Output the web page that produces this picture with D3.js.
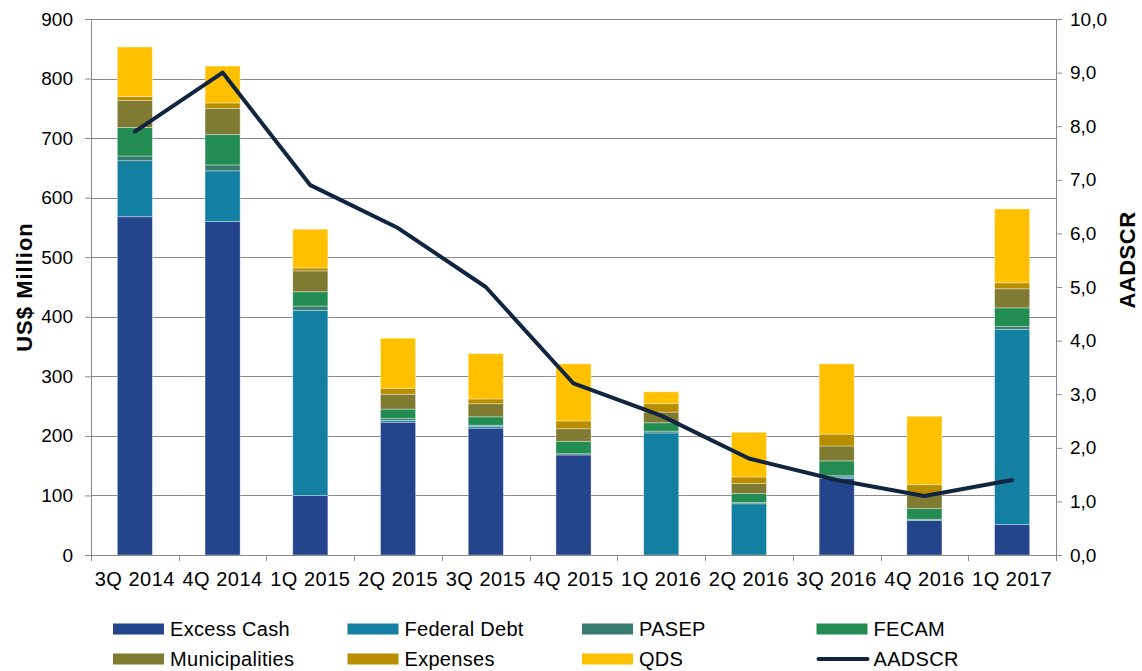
<!DOCTYPE html>
<html>
<head>
<meta charset="utf-8">
<script src="https://cdn.jsdelivr.net/npm/d3@7"></script>
<style>
  body { margin: 0; background: #fff; }
  text { font-family: "Liberation Sans", Arial, sans-serif; fill: #000; }
</style>
</head>
<body>
<div id="chart"></div>
<script>
var quarters = ["3Q 2014", "4Q 2014", "1Q 2015", "2Q 2015", "3Q 2015", "4Q 2015",
                "1Q 2016", "2Q 2016", "3Q 2016", "4Q 2016", "1Q 2017"];

// US$ million
var excessCash     = [568, 560, 100, 223, 213, 168,   0,   0, 129,  58,  51];
var federalDebt    = [ 94,  85, 311,   3,   3,   0, 205,  86,   2,   0, 328];
var pasep          = [  8,  10,   7,   3,   2,   2,   3,   2,   2,   2,   5];
var fecam          = [ 48,  51,  24,  16,  14,  21,  14,  15,  25,  18,  31];
var municipalities = [ 45,  44,  35,  25,  22,  21,  18,  17,  25,  24,  32];
var expenses       = [  7,   9,   5,  10,   8,  13,  14,  11,  20,  16,  10];
var qds            = [ 83,  62,  65,  84,  76,  96,  20,  75, 118, 115, 124];

var aadscr = [7.9, 9.0, 6.9, 6.1, 5.0, 3.2, 2.6, 1.8, 1.4, 1.1, 1.4];

var leftTicks = [0, 100, 200, 300, 400, 500, 600, 700, 800, 900];
var rightTicks = [0, 1, 2, 3, 4, 5, 6, 7, 8, 9, 10];

var seriesNames = ["Excess Cash", "Federal Debt", "PASEP", "FECAM", "Municipalities", "Expenses", "QDS"];
var seriesValues = [excessCash, federalDebt, pasep, fecam, municipalities, expenses, qds];
var colors = ["#24448c", "#1380a2", "#367b6d", "#228c53", "#7f7b32", "#b88d00", "#ffc000"];
var lineColor = "#0f2540";

var svgWidth = 1142;
var svgHeight = 671;
var margin = { top: 19, right: 86, bottom: 116, left: 91 };
var width = svgWidth - margin.left - margin.right;
var height = svgHeight - margin.top - margin.bottom;

var svg = d3.select("#chart")
  .append("svg")
  .attr("width", svgWidth)
  .attr("height", svgHeight);

var chartGroup = svg.append("g")
  .attr("transform", `translate(${margin.left}, ${margin.top})`);

// build rows for the stack
var table = quarters.map(function(q, i) {
  var row = { quarter: q };
  seriesNames.forEach(function(name, j) { row[name] = seriesValues[j][i]; });
  return row;
});
var stacked = d3.stack().keys(seriesNames)(table);

var xScale = d3.scaleBand()
  .domain(quarters)
  .range([0, width])
  .paddingInner(0.6)
  .paddingOuter(0.3);

var xBand = d3.scaleBand().domain(quarters).range([0, width]);

var yLeft = d3.scaleLinear().domain([0, 900]).range([height, 0]);
var yRight = d3.scaleLinear().domain([0, 10]).range([height, 0]);

// gridlines
chartGroup.append("g")
  .selectAll("line")
  .data(leftTicks.slice(1))
  .enter()
  .append("line")
  .attr("x1", 0)
  .attr("x2", width)
  .attr("y1", d => Math.round(yLeft(d)) + 0.5)
  .attr("y2", d => Math.round(yLeft(d)) + 0.5)
  .attr("stroke", "#8a8a8a")
  .attr("stroke-width", 1);

// bars
chartGroup.selectAll(".layer")
  .data(stacked)
  .enter()
  .append("g")
  .attr("class", "layer")
  .attr("fill", (d, i) => colors[i])
  .selectAll("rect")
  .data(d => d)
  .enter()
  .append("rect")
  .attr("x", d => xScale(d.data.quarter))
  .attr("width", xScale.bandwidth())
  .attr("y", d => yLeft(d[1]))
  .attr("height", d => Math.max(0, yLeft(d[0]) - yLeft(d[1])))
  .attr("stroke", "#ffffff")
  .attr("stroke-opacity", 0.45)
  .attr("stroke-width", 0.8);

// axes
var leftAxis = d3.axisLeft(yLeft).tickValues(leftTicks).tickSize(6).tickPadding(12);
var rightAxis = d3.axisRight(yRight).tickValues(rightTicks).tickSize(6).tickPadding(8)
  .tickFormat(d => d3.format(".1f")(d).replace(".", ","));

var gl = chartGroup.append("g").call(leftAxis);
var gr = chartGroup.append("g").attr("transform", `translate(${width}, 0)`).call(rightAxis);
[gl, gr].forEach(function(g) {
  g.select(".domain").attr("stroke", "#8a8a8a");
  g.selectAll(".tick line").attr("stroke", "#8a8a8a");
  g.selectAll(".tick text").attr("font-size", "19px")
    .attr("font-family", "Liberation Sans, Arial, sans-serif");
});

// x axis: base line, ticks on band edges, labels centred
var gx = chartGroup.append("g").attr("transform", `translate(0, ${height})`);
gx.append("line")
  .attr("x1", 0).attr("x2", width)
  .attr("y1", 0.5).attr("y2", 0.5)
  .attr("stroke", "#8a8a8a");
gx.selectAll(".xtick")
  .data(quarters.concat(["end"]))
  .enter()
  .append("line")
  .attr("class", "xtick")
  .attr("x1", (d, i) => Math.round(i * xBand.bandwidth()) + 0.5)
  .attr("x2", (d, i) => Math.round(i * xBand.bandwidth()) + 0.5)
  .attr("y1", 0)
  .attr("y2", 6)
  .attr("stroke", "#8a8a8a");
gx.selectAll(".xlabel")
  .data(quarters)
  .enter()
  .append("text")
  .attr("class", "xlabel")
  .attr("x", d => xBand(d) + xBand.bandwidth() / 2)
  .attr("y", 31)
  .attr("text-anchor", "middle")
  .attr("font-size", "20px")
  .attr("letter-spacing", "0.5px")
  .text(d => d);

// AADSCR line
var line = d3.line()
  .x((d, i) => xBand(quarters[i]) + xBand.bandwidth() / 2)
  .y(d => yRight(d));

chartGroup.append("path")
  .datum(aadscr)
  .attr("fill", "none")
  .attr("stroke", lineColor)
  .attr("stroke-width", 4)
  .attr("stroke-linejoin", "round")
  .attr("stroke-linecap", "round")
  .attr("d", line);

// axis titles
svg.append("text")
  .attr("transform", `translate(32, ${margin.top + height / 2}) rotate(-90)`)
  .attr("text-anchor", "middle")
  .attr("font-size", "22px")
  .attr("letter-spacing", "1px")
  .attr("font-weight", "bold")
  .text("US$ Million");

svg.append("text")
  .attr("transform", `translate(1135, 260) rotate(-90)`)
  .attr("text-anchor", "middle")
  .attr("font-size", "22px")
  .attr("letter-spacing", "0.5px")
  .attr("font-weight", "bold")
  .text("AADSCR");

// legend
var legendItems = seriesNames.concat(["AADSCR"]);
var legend = svg.append("g");
var items = legend.selectAll("g")
  .data(legendItems)
  .enter()
  .append("g")
  .attr("transform", (d, i) => `translate(${113 + (i % 4) * 234.5}, ${629 + Math.floor(i / 4) * 30})`);

items.each(function(d, i) {
  var g = d3.select(this);
  if (i < seriesNames.length) {
    g.append("rect")
      .attr("x", 0).attr("y", -5.5)
      .attr("width", 51).attr("height", 11)
      .attr("fill", colors[i]);
  } else {
    g.append("line")
      .attr("x1", 2).attr("x2", 51)
      .attr("y1", 0).attr("y2", 0)
      .attr("stroke", lineColor)
      .attr("stroke-width", 4)
      .attr("stroke-linecap", "round");
  }
  g.append("text")
    .attr("x", 57)
    .attr("y", 7)
    .attr("font-size", "20px")
    .attr("letter-spacing", "0.3px")
    .text(d);
});
</script>
</body>
</html>
